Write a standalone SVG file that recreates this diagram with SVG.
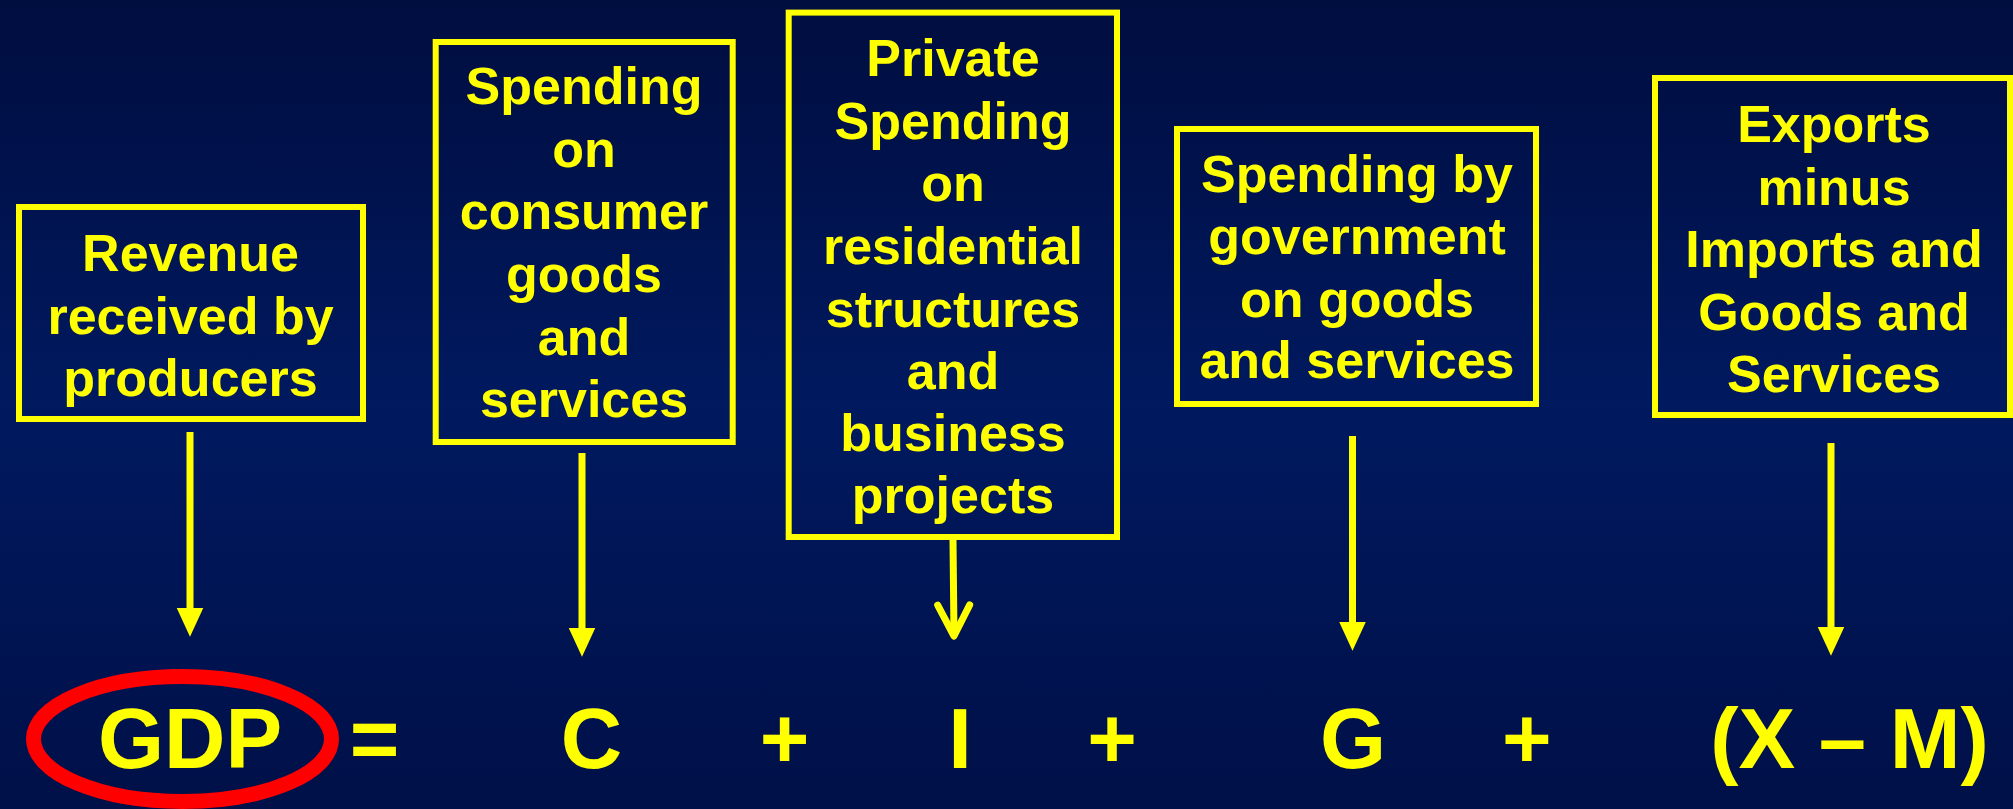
<svg xmlns="http://www.w3.org/2000/svg" width="2013" height="809" viewBox="0 0 2013 809">
<defs>
<linearGradient id="bg" x1="0" y1="0" x2="0" y2="1">
<stop offset="0" stop-color="#000d3f"/>
<stop offset="0.5" stop-color="#00195f"/>
<stop offset="1" stop-color="#001048"/>
</linearGradient>
<marker id="tri" markerUnits="userSpaceOnUse" markerWidth="30" markerHeight="30" viewBox="0 -12 26 24" refX="0" refY="0" orient="auto" overflow="visible">
<path d="M0,-11.5 L25,0 L0,11.5 Z" fill="#ffff00"/>
</marker>
<marker id="chev" markerUnits="userSpaceOnUse" markerWidth="40" markerHeight="40" viewBox="-36 -20 40 40" refX="0" refY="0" orient="auto" overflow="visible">
<path d="M-31,-16 L0,0 L-31,16" fill="none" stroke="#ffff00" stroke-width="7" stroke-linecap="round" stroke-linejoin="round"/>
</marker>
</defs>
<style>
.box{fill:none;stroke:#ffff00;stroke-width:6}
.lbl{font-family:"Liberation Sans",Arial,sans-serif;font-weight:bold;font-size:52px;fill:#ffff00;text-anchor:middle}
.eq{font-family:"Liberation Sans",Arial,sans-serif;font-weight:bold;font-size:85px;fill:#ffff00;text-anchor:middle}
.conn{stroke:#ffff00;stroke-width:7;fill:none}
</style>
<rect x="0" y="0" width="2013" height="809" fill="url(#bg)"/>

<g id="node-revenue">
<rect class="box" x="19" y="207" width="344" height="212"/>
<text class="lbl" x="190.5" y="271">Revenue</text>
<text class="lbl" x="190.5" y="334">received by</text>
<text class="lbl" x="190.5" y="396">producers</text>
</g>

<g id="node-consumer">
<rect class="box" x="435.7" y="42" width="297" height="400"/>
<text class="lbl" x="584" y="104">Spending</text>
<text class="lbl" x="584" y="167">on</text>
<text class="lbl" x="584" y="229">consumer</text>
<text class="lbl" x="584" y="292">goods</text>
<text class="lbl" x="584" y="355">and</text>
<text class="lbl" x="584" y="417">services</text>
</g>

<g id="node-investment">
<rect class="box" x="788.7" y="12.6" width="328.3" height="524.4"/>
<text class="lbl" x="953" y="76">Private</text>
<text class="lbl" x="953" y="139">Spending</text>
<text class="lbl" x="953" y="201">on</text>
<text class="lbl" x="953" y="264">residential</text>
<text class="lbl" x="953" y="327">structures</text>
<text class="lbl" x="953" y="389">and</text>
<text class="lbl" x="953" y="451">business</text>
<text class="lbl" x="953" y="513">projects</text>
</g>

<g id="node-government">
<rect class="box" x="1177" y="129" width="359" height="275"/>
<text class="lbl" x="1357" y="192">Spending by</text>
<text class="lbl" x="1357" y="254">government</text>
<text class="lbl" x="1357" y="317">on goods</text>
<text class="lbl" x="1357" y="378">and services</text>
</g>

<g id="node-netexports">
<rect class="box" x="1655" y="78" width="355" height="337"/>
<text class="lbl" x="1834" y="142">Exports</text>
<text class="lbl" x="1834" y="205">minus</text>
<text class="lbl" x="1834" y="267">Imports and</text>
<text class="lbl" x="1834" y="330">Goods and</text>
<text class="lbl" x="1834" y="392">Services</text>
</g>

<g id="connectors">
<line class="conn" x1="190" y1="432" x2="190" y2="608" marker-end="url(#tri)"/>
<line class="conn" x1="582" y1="453" x2="582" y2="628" marker-end="url(#tri)"/>
<line class="conn" x1="953" y1="540" x2="954" y2="636" marker-end="url(#chev)"/>
<line class="conn" x1="1352.5" y1="436" x2="1352.5" y2="622" marker-end="url(#tri)"/>
<line class="conn" x1="1831" y1="443" x2="1831" y2="627" marker-end="url(#tri)"/>
</g>

<g id="equation">
<ellipse cx="182.5" cy="739" rx="149" ry="62.5" fill="none" stroke="#ff0000" stroke-width="15"/>
<text class="eq" x="190" y="768">GDP</text>
<text class="eq" x="374.5" y="768">=</text>
<text class="eq" x="591.5" y="768">C</text>
<text class="eq" x="784.6" y="768">+</text>
<text class="eq" x="960" y="768">I</text>
<text class="eq" x="1112" y="768">+</text>
<text class="eq" x="1353" y="768">G</text>
<text class="eq" x="1526.7" y="768">+</text>
<text class="eq" x="1849.5" y="768">(X – M)</text>
</g>
</svg>
